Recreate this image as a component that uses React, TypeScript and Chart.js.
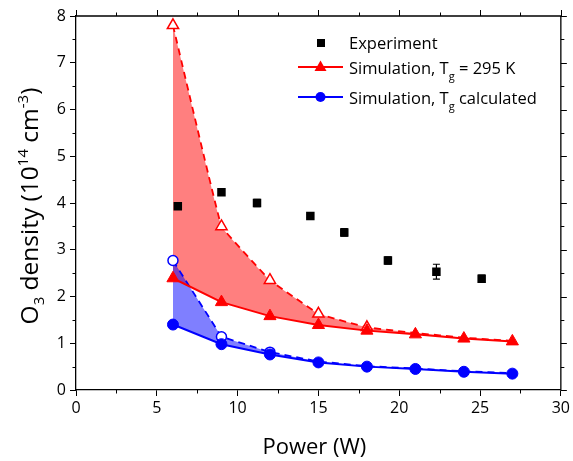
import React, { useEffect, useRef } from "react";
import { Chart, registerables } from "chart.js";

Chart.register(...registerables);

const simPower = [6, 9, 12, 15, 18, 21, 24, 27];
const sim295 = [2.39, 1.88, 1.58, 1.39, 1.27, 1.19, 1.1, 1.04];
const sim295Upper = [7.8, 3.5, 2.35, 1.63, 1.34, 1.22, 1.12, 1.05];
const simCalc = [1.4, 0.98, 0.76, 0.59, 0.5, 0.45, 0.39, 0.35];
const simCalcUpper = [2.77, 1.14, 0.81, 0.61, 0.51, 0.46, 0.4, 0.36];
const expPower = [6.3, 9.0, 11.2, 14.5, 16.6, 19.3, 22.3, 25.1];
const expDensity = [3.93, 4.23, 4.0, 3.72, 3.37, 2.77, 2.53, 2.38];
const expError = [0.03, 0.05, 0.08, 0.03, 0.08, 0.08, 0.16, 0.08];
const xTicks = [0, 5, 10, 15, 20, 25, 30];
const yTicks = [0, 1, 2, 3, 4, 5, 6, 7, 8];
const upperMarkerCount = [5, 3];

const FONT = "'Open Sans', 'Noto Sans', sans-serif";

function drawRich(ctx: CanvasRenderingContext2D, parts: { t: string; s: number; dy: number }[], x: number, y: number, align: "left" | "center") {
  let total = 0;
  for (const p of parts) {
    ctx.font = `${p.s}px ${FONT}`;
    total += ctx.measureText(p.t).width;
  }
  let cx = align === "center" ? x - total / 2 : x;
  for (const p of parts) {
    ctx.font = `${p.s}px ${FONT}`;
    ctx.fillText(p.t, cx, y + p.dy);
    cx += ctx.measureText(p.t).width;
  }
}

const decorPlugin = {
  id: "decor",
  afterDatasetsDraw(chart: any) {
    const { ctx, scales } = chart;
    const x = scales.x, y = scales.y;
    ctx.save();
    ctx.strokeStyle = "#000";
    ctx.lineWidth = 1.2;
    expPower.forEach((p, i) => {
      const px = x.getPixelForValue(p);
      const y1 = y.getPixelForValue(expDensity[i] - expError[i]);
      const y2 = y.getPixelForValue(expDensity[i] + expError[i]);
      ctx.beginPath();
      ctx.moveTo(px, y1); ctx.lineTo(px, y2);
      ctx.moveTo(px - 3.5, y1); ctx.lineTo(px + 3.5, y1);
      ctx.moveTo(px - 3.5, y2); ctx.lineTo(px + 3.5, y2);
      ctx.stroke();
    });
    ctx.restore();
  },
  afterDraw(chart: any) {
    const { ctx, chartArea: a, scales } = chart;
    const x = scales.x, y = scales.y;
    ctx.save();
    ctx.strokeStyle = "#000";
    ctx.lineWidth = 1.3;
    ctx.beginPath();
    ctx.moveTo(a.left, a.top);
    ctx.lineTo(a.right, a.top);
    ctx.lineTo(a.right, a.bottom);
    ctx.stroke();
    ctx.lineWidth = 1;
    ctx.beginPath();
    for (let i = 0; i < xTicks.length; i++) {
      const v = xTicks[i];
      const px = Math.round(x.getPixelForValue(v)) + 0.5;
      ctx.moveTo(px, a.top); ctx.lineTo(px, a.top - 6);
      if (i < xTicks.length - 1) {
        const m = Math.round(x.getPixelForValue((v + xTicks[i + 1]) / 2)) + 0.5;
        ctx.moveTo(m, a.top); ctx.lineTo(m, a.top - 3.5);
        ctx.moveTo(m, a.bottom); ctx.lineTo(m, a.bottom + 3.5);
      }
    }
    for (let i = 0; i < yTicks.length; i++) {
      const v = yTicks[i];
      const py = Math.round(y.getPixelForValue(v)) + 0.5;
      ctx.moveTo(a.right, py); ctx.lineTo(a.right + 6, py);
      if (i < yTicks.length - 1) {
        const m = Math.round(y.getPixelForValue((v + yTicks[i + 1]) / 2)) + 0.5;
        ctx.moveTo(a.right, m); ctx.lineTo(a.right + 3.5, m);
        ctx.moveTo(a.left, m); ctx.lineTo(a.left - 3.5, m);
      }
    }
    ctx.stroke();

    // axis titles
    ctx.fillStyle = "#000";
    ctx.textBaseline = "alphabetic";
    ctx.textAlign = "left";
    drawRich(ctx, [{ t: "Power (W)", s: 22, dy: 0 }], (a.left + a.right) / 2 - 4, 454, "center");
    ctx.save();
    ctx.translate(38, 206);
    ctx.rotate(-Math.PI / 2);
    drawRich(ctx, [
      { t: "O", s: 24.5, dy: 0 },
      { t: "3", s: 15, dy: 6 },
      { t: " density (10", s: 24.5, dy: 0 },
      { t: "14", s: 15, dy: -10 },
      { t: " cm", s: 24.5, dy: 0 },
      { t: "-3", s: 15, dy: -10 },
      { t: ")", s: 24.5, dy: 0 },
    ], 0, 0, "center");
    ctx.restore();

    // legend
    ctx.fillStyle = "#000";
    ctx.fillRect(317, 39, 8, 8);
    drawRich(ctx, [{ t: "Experiment", s: 16.5, dy: 0 }], 349, 49, "left");

    ctx.strokeStyle = "#ff0000";
    ctx.fillStyle = "#ff0000";
    ctx.lineWidth = 2;
    ctx.beginPath(); ctx.moveTo(298, 67); ctx.lineTo(343, 67); ctx.stroke();
    ctx.beginPath();
    ctx.moveTo(320.5, 60.5); ctx.lineTo(326.5, 71); ctx.lineTo(314.5, 71); ctx.closePath(); ctx.fill();
    ctx.fillStyle = "#000";
    drawRich(ctx, [
      { t: "Simulation, T", s: 16.5, dy: 0 },
      { t: "g", s: 11, dy: 6 },
      { t: " = 295 K", s: 16.5, dy: 0 },
    ], 349, 74, "left");

    ctx.strokeStyle = "#0000ff";
    ctx.fillStyle = "#0000ff";
    ctx.beginPath(); ctx.moveTo(298, 97); ctx.lineTo(343, 97); ctx.stroke();
    ctx.beginPath(); ctx.arc(320.5, 97, 5, 0, Math.PI * 2); ctx.fill();
    ctx.fillStyle = "#000";
    drawRich(ctx, [
      { t: "Simulation, T", s: 16.5, dy: 0 },
      { t: "g", s: 11, dy: 6 },
      { t: " calculated", s: 16.5, dy: 0 },
    ], 349, 104, "left");
    ctx.restore();
  },
};

export default function App() {
  const ref = useRef<HTMLCanvasElement | null>(null);
  useEffect(() => {
    if (!ref.current) return;
    const pts = (xs: number[], ys: number[]) => xs.map((v, i) => ({ x: v, y: ys[i] }));
    const openRadius = (n: number, r: number) => simPower.map((_, i) => (i < n ? r : 0));
    const chart = new Chart(ref.current, {
      type: "line",
      data: {
        datasets: [
          {
            label: "Experiment",
            data: pts(expPower, expDensity),
            showLine: false,
            pointStyle: "rect",
            pointRadius: 6,
            pointBackgroundColor: "#000",
            pointBorderColor: "#000",
            pointBorderWidth: 0,
            order: 0,
          },
          {
            label: "Simulation, Tg = 295 K",
            data: pts(simPower, sim295),
            borderColor: "#ff0000",
            borderWidth: 2,
            pointStyle: "triangle",
            pointRadius: 7,
            pointBackgroundColor: "#ff0000",
            pointBorderColor: "#ff0000",
            pointBorderWidth: 1,
            tension: 0,
            fill: false,
            order: 2,
          },
          {
            label: "Simulation upper, Tg = 295 K",
            data: pts(simPower, sim295Upper),
            borderColor: "#ff0000",
            borderWidth: 1.8,
            borderDash: [7, 5],
            tension: 0.05,
            pointStyle: "triangle",
            pointRadius: openRadius(upperMarkerCount[0], 6.5),
            pointBackgroundColor: "#ffffff",
            pointBorderColor: "#ff0000",
            pointBorderWidth: 1.5,
            fill: "-1",
            backgroundColor: "rgba(255,0,0,0.5)",
            order: 4,
          },
          {
            label: "Simulation, Tg calculated",
            data: pts(simPower, simCalc),
            borderColor: "#0000ff",
            borderWidth: 2,
            pointStyle: "circle",
            pointRadius: 5.5,
            pointBackgroundColor: "#0000ff",
            pointBorderColor: "#0000ff",
            pointBorderWidth: 1,
            tension: 0,
            fill: false,
            order: 1,
          },
          {
            label: "Simulation upper, Tg calculated",
            data: pts(simPower, simCalcUpper),
            borderColor: "#0000ff",
            borderWidth: 1.8,
            borderDash: [7, 5],
            tension: 0,
            pointStyle: "circle",
            pointRadius: openRadius(upperMarkerCount[1], 5),
            pointBackgroundColor: "#ffffff",
            pointBorderColor: "#0000ff",
            pointBorderWidth: 1.5,
            fill: "-1",
            backgroundColor: "rgba(0,0,255,0.5)",
            order: 3,
          },
        ],
      },
      options: {
        animation: false,
        responsive: true,
        maintainAspectRatio: false,
        events: [],
        layout: { padding: { top: 16, right: 11, left: 0, bottom: 0 } },
        plugins: {
          legend: { display: false },
          tooltip: { enabled: false },
          filler: { drawTime: "beforeDatasetsDraw" },
        } as any,
        scales: {
          x: {
            type: "linear",
            min: 0,
            max: 30,
            afterBuildTicks: (s: any) => { s.ticks = xTicks.map((v) => ({ value: v })); },
            afterFit: (s: any) => { s.height = 71; },
            ticks: { color: "#000", font: { family: FONT, size: 16 }, padding: 3, maxRotation: 0 },
            grid: { drawOnChartArea: false, color: "#000", tickLength: 6, tickWidth: 1 },
            border: { color: "#000", width: 1.3 },
          },
          y: {
            type: "linear",
            min: 0,
            max: 8,
            afterBuildTicks: (s: any) => { s.ticks = yTicks.map((v) => ({ value: v })); },
            afterFit: (s: any) => { s.width = 76; },
            ticks: { color: "#000", font: { family: FONT, size: 16 }, padding: 4 },
            grid: { drawOnChartArea: false, color: "#000", tickLength: 6, tickWidth: 1 },
            border: { color: "#000", width: 1.3 },
          },
        },
      },
      plugins: [decorPlugin],
    } as any);
    return () => chart.destroy();
  }, []);
  return (
    <div style={{ position: "fixed", left: 0, top: 0, width: 573, height: 461, background: "#fff" }}>
      <canvas ref={ref} />
    </div>
  );
}
